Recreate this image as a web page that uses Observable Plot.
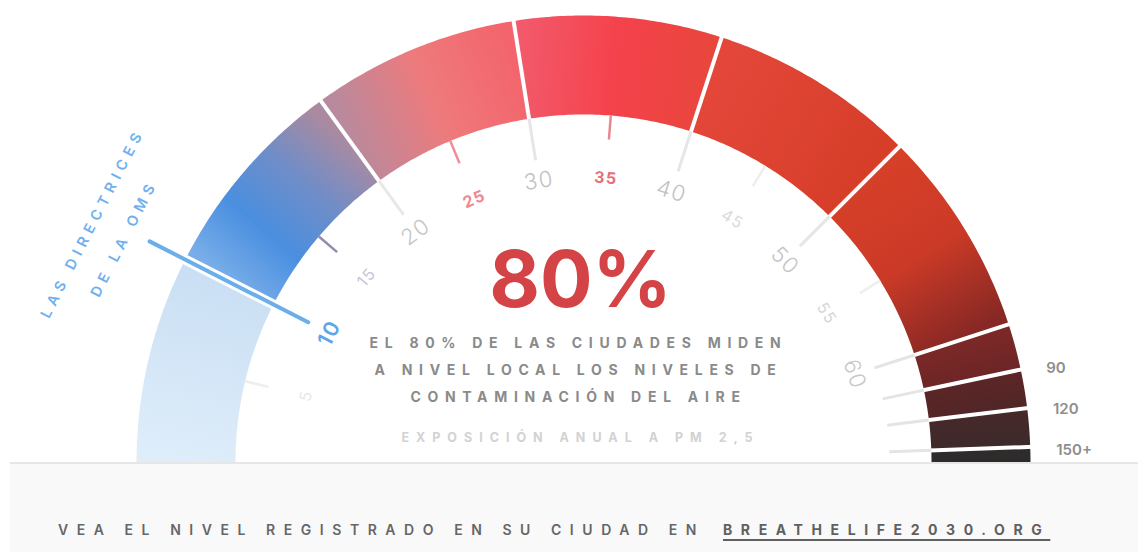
<!DOCTYPE html>
<html>
<head>
<meta charset="utf-8">
<script src="https://cdn.jsdelivr.net/npm/d3@7"></script>
<script src="https://cdn.jsdelivr.net/npm/@observablehq/plot@0.6"></script>
<style>
  html, body { margin: 0; padding: 0; background: #ffffff; }
  body { width: 1138px; height: 552px; overflow: hidden; font-family: Inter, "Open Sans", sans-serif; }
  #chart svg { display: block; }
  #footer { position: relative; margin-left: 10px; height: 88px; background: #f9f9f9; border-top: 2px solid #e6e6e6; }
  #footer span { position: absolute; top: 56px; line-height: 20px; font-size: 14px; white-space: nowrap; }
  #footer .lead { left: 48px; color: #666666; font-weight: 600; letter-spacing: 8.55px; }
  #footer .link { left: 713px; color: #606060; font-weight: 700; letter-spacing: 8.6px; text-decoration: underline; text-decoration-thickness: 2px; text-underline-offset: 4px; }
</style>
</head>
<body>
<div id="chart"></div>
<div id="footer"><span class="lead"></span><span class="link"></span></div>
<script>
// ---------------- data ----------------
const segmentEdges = [0, 10, 20, 30, 40, 50, 60, 90, 120, 150, 160];   // PM2.5 bands (last = "150+")
const gaugeTicks = [5, 10, 15, 20, 25, 30, 35, 40, 45, 50, 55, 60];
const outerTicks = [90, 120, 150];
const outerTickLabels = ["90", "120", "150+"];
const guidelineValue = 10;
const guidelineLabel = ["LAS DIRECTRICES", "DE LA OMS"];
const headline = ["80%"];
const bodyLines = ["EL 80% DE LAS CIUDADES MIDEN", "A NIVEL LOCAL LOS NIVELES DE", "CONTAMINACIÓN DEL AIRE"];
const unitLine = ["EXPOSICIÓN ANUAL A PM 2,5"];
const footerLead = "VEA EL NIVEL REGISTRADO EN SU CIUDAD EN";
const footerLink = "BREATHELIFE2030.ORG";

// colour stops for each band (styles)
const bandColors = [
  ["#deedfa", "#d4e6f7", "#cadff4"],
  ["#78ade9", "#4a8fdf", "#6f8dc8", "#ab8aa0"],
  ["#b98a9d", "#ee7a7c", "#f3646c"],
  ["#f2596a", "#f5424c", "#e9463d"],
  ["#e4473a", "#d63e28"],
  ["#d63f28", "#cb3a27", "#872824"],
  ["#7c2927", "#6c2526"],
  ["#5d2526", "#502627"],
  ["#47292a", "#3c2a2b"],
  ["#312c2c", "#2c2b2b"]
];

// ---------------- geometry ----------------
const W = 1138, H = 462, CX = 583;
const R_OUT = 447, R_IN = 348;
const angle = d3.scaleLinear().domain([0, 60, 90, 120, 150, 160]).range([0, 162, 168, 173, 178, 180]);
const polarA = (a, r) => { const t = a * Math.PI / 180; return [-r * Math.cos(t), r * Math.sin(t)]; };
const polar = (v, r) => polarA(angle(v), r);

function ringPath(v0, v1) {
  const a0 = angle(v0), a1 = angle(v1);
  const n = Math.max(2, Math.ceil((a1 - a0) / 0.5));
  const as = d3.range(n + 1).map(i => a0 + (a1 - a0) * i / n);
  const pts = [];
  as.forEach(a => pts.push(polarA(a, R_OUT)));
  as.slice().reverse().forEach(a => pts.push(polarA(a, R_IN)));
  return pts.map(([x, y]) => ({x, y}));
}

const isMajor = v => v % 10 === 0;
const tickColor = {5: "#eeeeee", 15: "#8f8dad", 20: "#e8e8e8", 25: "#ee8f98", 30: "#e6e6e6", 35: "#e98890",
  40: "#e6e6e6", 45: "#eeeeee", 50: "#e6e6e6", 55: "#eeeeee", 60: "#e4e4e4", 90: "#e4e4e4", 120: "#e4e4e4", 150: "#e4e4e4"};
const labelColor = {5: "#e8e8e8", 15: "#c6c7d9", 20: "#c6c6c6", 25: "#ef8890", 30: "#c2c2c2", 35: "#e5707a",
  40: "#c2c2c2", 45: "#dadada", 50: "#c6c6c6", 55: "#d6d6d6", 60: "#c8c8c8"};
const LABEL_R = 285;

const majorLabels = gaugeTicks.filter(v => isMajor(v) && v !== guidelineValue);
const minorLabels = gaugeTicks.filter(v => !isMajor(v) && v !== 25 && v !== 35);
const hotLabels = gaugeTicks.filter(v => v === 25 || v === 35);
const allTicks = gaugeTicks.concat(outerTicks).filter(v => v !== guidelineValue);

const font = "Inter, 'Open Sans', sans-serif";

const segMarks = segmentEdges.slice(0, -1).map((v0, i) =>
  Plot.line(ringPath(v0, segmentEdges[i + 1]), {x: "x", y: "y", fill: `url(#gauge-seg-${i})`, stroke: "none", curve: "linear"})
);

const labelText = (vals, opts) => Plot.text(vals, {
  x: v => polar(v, LABEL_R)[0], y: v => polar(v, LABEL_R)[1],
  text: v => String(v), rotate: v => angle(v) - 90, fontFamily: font, ...opts
});

const chart = Plot.plot({
  width: W, height: H, margin: 0,
  x: {domain: [-CX, W - CX], axis: null},
  y: {domain: [0, H], axis: null},
  color: {type: "identity"},
  style: {background: "transparent", overflow: "visible"},
  marks: [
    ...segMarks,
    // white separators between bands
    Plot.link(segmentEdges.slice(1, -1), {
      x1: v => polar(v, R_IN - 2)[0], y1: v => polar(v, R_IN - 2)[1],
      x2: v => polar(v, R_OUT + 3)[0], y2: v => polar(v, R_OUT + 3)[1],
      stroke: "white", strokeWidth: v => v === guidelineValue ? 10 : 4
    }),
    // inner ticks
    Plot.link(allTicks, {
      x1: v => polar(v, R_IN)[0], y1: v => polar(v, R_IN)[1],
      x2: v => polar(v, isMajor(v) ? 306 : 324)[0], y2: v => polar(v, isMajor(v) ? 306 : 324)[1],
      stroke: v => tickColor[v], strokeWidth: v => isMajor(v) ? 3 : 2.5
    }),
    // WHO guideline line
    Plot.link([guidelineValue], {
      x1: v => polar(v, 309)[0], y1: v => polar(v, 309)[1],
      x2: v => polar(v, 487)[0], y2: v => polar(v, 487)[1],
      stroke: "#6aaeea", strokeWidth: 4, strokeLinecap: "round"
    }),
    // tick labels
    labelText(majorLabels, {fill: v => labelColor[v], fontSize: 22, fontWeight: 300}),
    labelText(minorLabels, {fill: v => labelColor[v], fontSize: 16, fontWeight: 400}),
    labelText(hotLabels, {fill: v => labelColor[v], fontSize: 16, fontWeight: 700}),
    labelText([guidelineValue], {fill: "#5ea6ea", fontSize: 21, fontWeight: 600}),
    // outer labels (90, 120, 150+)
    Plot.text(outerTicks, {
      x: v => polar(v, 473)[0], y: v => polar(v, 473)[1], dy: 4,
      text: (v, i) => outerTickLabels[i], textAnchor: "start",
      fill: "#8e8e8e", fontSize: 15, fontWeight: 600, fontFamily: font
    }),
    // guideline annotation
    Plot.text(guidelineLabel, {
      x: (d, i) => polarA(angle(guidelineValue) - 1, i === 0 ? 546 : 511)[0],
      y: (d, i) => polarA(angle(guidelineValue) - 1, i === 0 ? 546 : 511)[1],
      text: d => d, rotate: angle(guidelineValue) - 90,
      fill: "#70b0ee", fontSize: 14.5, fontWeight: 600, fontFamily: font
    }),
    // centre texts
    Plot.text(headline, {x: () => 0, y: () => 180, text: d => d, dx: -3, fill: "#d44446", fontSize: 78, fontWeight: 700, fontFamily: font}),
    Plot.text(bodyLines, {x: () => 0, y: (d, i) => 119 - i * 27, text: d => d, dx: -5, fill: "#8a8a8a", fontSize: 14, fontWeight: 700, fontFamily: font}),
    Plot.text(unitLine, {x: () => 0, y: () => 25, text: d => d, dx: -3, fill: "#d2d2d2", fontSize: 12.5, fontWeight: 700, fontFamily: font})
  ]
});

// gradients for the bands
const xs = chart.scale("x"), ys = chart.scale("y");
const defs = d3.select(chart).insert("defs", ":first-child");
segmentEdges.slice(0, -1).forEach((v0, i) => {
  const v1 = segmentEdges[i + 1];
  const rm = (R_IN + R_OUT) / 2;
  const [x0, y0] = polar(v0, rm), [x1, y1] = polar(v1, rm);
  const g = defs.append("linearGradient").attr("id", `gauge-seg-${i}`).attr("gradientUnits", "userSpaceOnUse")
    .attr("x1", xs.apply(x0)).attr("y1", ys.apply(y0)).attr("x2", xs.apply(x1)).attr("y2", ys.apply(y1));
  const cs = bandColors[i];
  cs.forEach((c, j) => g.append("stop").attr("offset", cs.length === 1 ? 0 : j / (cs.length - 1)).attr("stop-color", c));
});

// letter spacing for the wide-tracked texts
d3.select(chart).selectAll("text").each(function () {
  const t = this.textContent;
  let ls = null;
  if (bodyLines.includes(t)) ls = 6.7;
  else if (unitLine.includes(t)) ls = 7;
  else if (guidelineLabel.includes(t)) ls = 5.6;
  else if (/^\d+$/.test(t) && Number(t) <= 60) ls = 1.5;
  if (ls != null) this.style.letterSpacing = ls + "px";
});

document.getElementById("chart").appendChild(chart);
document.querySelector("#footer .lead").textContent = footerLead;
document.querySelector("#footer .link").textContent = footerLink;
</script>
</body>
</html>
